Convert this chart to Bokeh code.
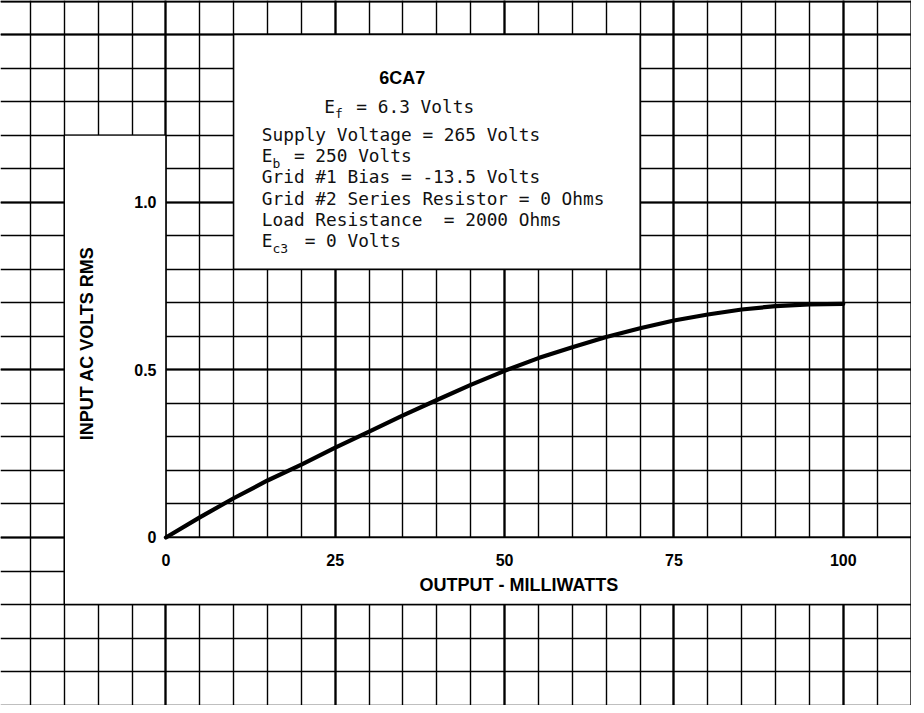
import numpy as np
from bokeh.plotting import figure
from bokeh.models import Grid, FixedTicker
from bokeh.core.properties import value
from bokeh.embed import file_html
from bokeh.resources import INLINE

# ---- data ----
output_mw = [0, 5, 10, 15, 20, 25, 30, 35, 40, 45, 50, 55, 60, 65, 70, 75, 80, 85, 90, 95, 100]
input_vrms = [0.0, 0.060, 0.117, 0.170, 0.217, 0.268, 0.316, 0.364, 0.410, 0.455, 0.497,
              0.535, 0.567, 0.598, 0.624, 0.647, 0.665, 0.680, 0.690, 0.695, 0.697]

x_ticks = [0, 25, 50, 75, 100]
x_tick_labels = ["0", "25", "50", "75", "100"]
y_ticks = [0.0, 0.5, 1.0]
y_tick_labels = ["0", "0.5", "1.0"]

NB = "\u00a0"
x_title = "OUTPUT - MILLIWATTS"
y_title = "INPUT AC VOLTS RMS"
tube_name = "6CA7"
heater_line = "E" + NB + NB + "= 6.3 Volts"
heater_sub = "f"
spec_lines = ["Supply Voltage = 265 Volts",
              "E" + NB + NB + "= 250 Volts",
              "Grid #1 Bias = -13.5 Volts",
              "Grid #2 Series Resistor = 0 Ohms",
              "Load Resistance" + NB + NB + "= 2000 Ohms",
              "E" + NB + NB + NB + "= 0 Volts"]
spec_subs = {1: "b", 5: "c3"}

# ---- graph-paper page layout (data units) ----
px_x = 6.774   # px per x unit
px_y = 335.3   # px per y unit
W, H = 911, 705
X0 = -(173.4 - 8) / px_x
Y1 = 1.6 + 0.5 / px_y
x1 = X0 + W / px_x
y0 = Y1 - H / px_y

p = figure(width=W, height=H, x_range=(X0, x1), y_range=(y0, Y1),
           output_backend="svg", toolbar_location=None, min_border=0,
           background_fill_color="white", border_fill_color="white")
p.axis.visible = False
p.xgrid.visible = False
p.ygrid.visible = False
p.outline_line_color = None

minor_x = [round(-25 + 5 * i, 3) for i in range(28)]
minor_y = [round(-0.5 + 0.1 * i, 3) for i in range(22)]
major_x = [-25, 0, 25, 50, 75, 100, 110]
major_y = [0.0, 0.5, 1.0, 1.5, 1.6]

for dim, ticks, w in [(0, minor_x, 1.4), (1, minor_y, 1.4), (0, major_x, 2.2), (1, major_y, 2.2)]:
    g = Grid(dimension=dim, ticker=FixedTicker(ticks=ticks),
             grid_line_color="black", grid_line_width=w)
    p.add_layout(g)

# white areas of the page (axis label L-shape and info box)
p.patch([-15, 0, 0, 110, 110, -15], [1.2, 1.2, 0, 0, -0.2, -0.2],
        fill_color="white", line_color="black", line_width=1.4)
p.quad(left=[10], right=[70], bottom=[0.8], top=[1.5],
       fill_color="white", line_color="black", line_width=1.4)

# curve
p.line(output_mw, input_vrms, line_color="black", line_width=4.2, line_cap="round")

bold = value("Liberation Sans")
# tick labels
p.text(x=x_ticks, y=[-0.0686] * len(x_ticks), text=x_tick_labels, text_font=bold,
       text_font_style="bold", text_font_size="16px", text_align="center",
       text_baseline="alphabetic", text_color="black")
p.text(x=[-1.39] * len(y_ticks), y=y_ticks, text=y_tick_labels, text_font=bold,
       text_font_style="bold", text_font_size="16px", text_align="right",
       text_baseline="middle", text_color="black")
# axis titles
p.text(x=[52.1], y=[-0.143], text=[x_title], text_font=bold, text_font_style="bold",
       text_font_size="18px", text_align="center", text_baseline="middle")
p.text(x=[-11.6], y=[0.579], text=[y_title], text_font=bold, text_font_style="bold",
       text_font_size="18px", text_align="center", text_baseline="middle", angle=np.pi / 2)

# info box
mono = value("DejaVu Sans Mono")
cell = 10.7 / px_x
sub_drop = 7.5 / px_y
p.text(x=[34.9], y=[1.370], text=[tube_name], text_font=bold, text_font_style="bold",
       text_font_size="18px", text_align="center", text_baseline="alphabetic")
p.text(x=[23.37], y=[1.2854], text=[heater_line], text_font=mono, text_font_size="17.8px",
       text_align="left", text_baseline="alphabetic", text_color="#111111")
p.text(x=[23.37 + cell], y=[1.2854 - sub_drop], text=[heater_sub], text_font=mono,
       text_font_size="13px", text_align="left", text_baseline="alphabetic", text_color="#111111")
line_x = 14.16
line_y = [1.2028 - 0.0636 * i for i in range(len(spec_lines))]
p.text(x=[line_x] * len(spec_lines), y=line_y, text=spec_lines, text_font=mono,
       text_font_size="17.8px", text_align="left", text_baseline="alphabetic", text_color="#111111")
p.text(x=[line_x + cell] * len(spec_subs), y=[line_y[i] - sub_drop for i in spec_subs],
       text=list(spec_subs.values()), text_font=mono, text_font_size="13px",
       text_align="left", text_baseline="alphabetic", text_color="#111111")

open("out.html", "w").write(file_html(p, INLINE))
